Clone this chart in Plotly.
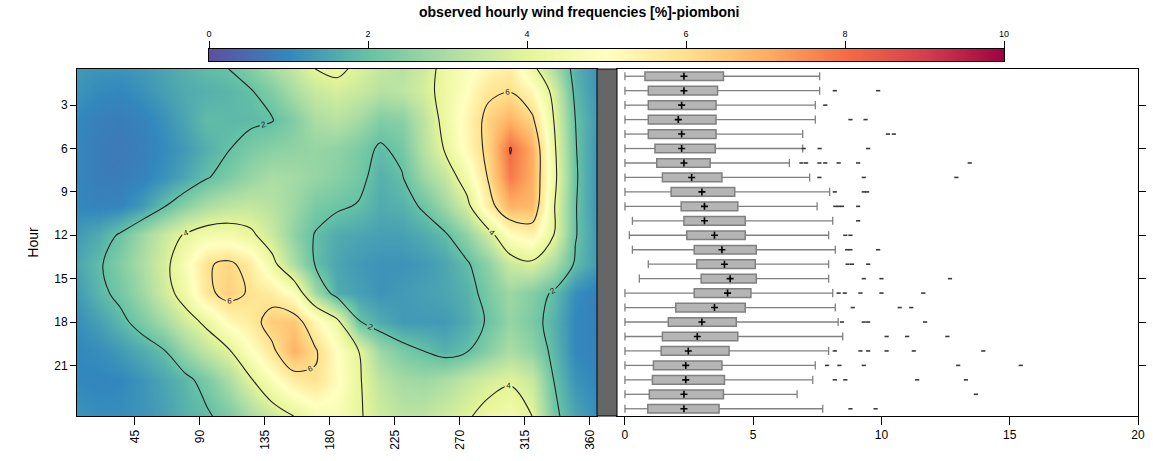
import plotly.graph_objects as go

# Wind direction (degrees) and hour grid of the frequency surface
directions = [5, 20, 35, 50, 65, 80, 95, 110, 125, 140, 155, 170, 185,
              200, 215, 230, 245, 260, 275, 290, 305, 320, 335, 350, 365]
surface_hours = [0.5, 2, 4, 6, 8, 10, 12, 14, 16, 18, 20, 22, 24.5]

# Observed hourly wind frequency [%], one row per entry of surface_hours
freq_h00 = [1.3, 1.2, 1.2, 1.3, 1.5, 1.7, 1.9, 2.0, 2.4, 2.9, 3.4, 4.0, 4.2, 3.8, 3.4, 3.2, 3.6, 4.3, 4.8, 5.3, 5.6, 4.3, 3.0, 1.7, 1.2]
freq_h02 = [1.2, 1.05, 1.0, 1.15, 1.4, 1.6, 1.7, 1.8, 1.95, 2.4, 3.0, 3.5, 3.7, 3.5, 3.2, 3.3, 3.7, 4.3, 5.0, 5.8, 5.95, 5.2, 3.7, 1.8, 1.2]
freq_h04 = [1.0, 0.85, 0.8, 0.9, 1.15, 1.5, 1.9, 1.85, 1.85, 1.95, 2.4, 3.0, 3.2, 2.9, 2.4, 2.5, 3.3, 4.3, 5.3, 6.3, 6.9, 6.2, 4.0, 2.0, 1.3]
freq_h06 = [0.95, 0.8, 0.75, 0.85, 1.05, 1.3, 1.7, 1.97, 2.3, 2.5, 2.6, 2.7, 2.6, 2.3, 1.9, 2.2, 3.2, 4.1, 5.2, 6.3, 8.05, 7.0, 4.2, 2.05, 1.2]
freq_h08 = [0.95, 0.8, 0.8, 0.9, 1.15, 1.5, 1.95, 2.3, 2.7, 3.0, 2.9, 2.7, 2.5, 2.2, 1.7, 1.95, 2.8, 3.4, 4.5, 6.1, 7.8, 7.0, 4.3, 2.1, 1.2]
freq_h10 = [1.0, 0.9, 0.95, 1.3, 1.95, 2.5, 3.0, 3.3, 3.4, 3.2, 2.8, 2.3, 2.1, 1.95, 1.6, 1.7, 2.1, 2.8, 3.7, 5.6, 6.9, 6.8, 4.1, 2.05, 1.2]
freq_h12 = [1.3, 1.6, 2.1, 2.8, 3.5, 4.1, 4.5, 4.5, 4.2, 3.5, 2.6, 1.95, 1.6, 1.5, 1.4, 1.4, 1.6, 1.9, 2.6, 3.6, 5.0, 5.4, 4.0, 2.05, 1.3]
freq_h14 = [1.5, 1.9, 2.4, 3.0, 3.7, 4.7, 5.9, 6.2, 5.6, 4.3, 3.0, 1.95, 1.5, 1.3, 1.2, 1.2, 1.3, 1.5, 1.9, 2.6, 3.5, 3.8, 3.0, 1.9, 1.3]
freq_h16 = [1.3, 1.8, 2.2, 2.8, 3.6, 4.4, 5.8, 6.3, 5.9, 5.6, 4.8, 2.9, 1.6, 1.4, 1.2, 1.3, 1.4, 1.5, 1.7, 2.3, 2.8, 2.4, 1.9, 1.1, 0.85]
freq_h18 = [1.1, 1.4, 1.8, 2.3, 2.9, 3.6, 4.2, 5.2, 5.6, 6.4, 6.5, 5.3, 4.3, 2.05, 1.6, 1.3, 1.3, 1.3, 1.6, 2.1, 2.7, 2.3, 1.7, 1.0, 0.85]
freq_h20 = [1.0, 1.1, 1.3, 1.6, 1.95, 2.7, 3.4, 3.9, 4.9, 5.8, 6.9, 6.1, 5.0, 4.0, 2.8, 2.3, 2.0, 1.7, 1.95, 2.5, 3.0, 2.6, 1.8, 1.0, 0.9]
freq_h22 = [1.0, 0.95, 1.0, 1.2, 1.5, 1.8, 2.3, 3.0, 3.9, 4.8, 5.6, 5.9, 5.1, 4.1, 3.3, 2.9, 2.8, 3.0, 3.4, 3.7, 3.9, 3.5, 2.0, 1.2, 0.95]
freq_h24 = [1.2, 1.1, 1.1, 1.2, 1.4, 1.7, 1.9, 2.3, 2.9, 3.5, 4.0, 4.6, 4.7, 4.1, 3.6, 3.3, 3.3, 3.6, 3.9, 4.3, 4.5, 4.0, 2.2, 1.5, 1.1]

frequency = [freq_h00, freq_h02, freq_h04, freq_h06, freq_h08, freq_h10, freq_h12,
             freq_h14, freq_h16, freq_h18, freq_h20, freq_h22, freq_h24]

# Hourly wind speed distribution (box statistics)
hours = list(range(1, 25))
speed_low = [0, 0, 0, 0, 0, 0, 0, 0, 0, 0, 0.29, 0.17, 0.29, 0.91, 0.56, 0, 0, 0, 0, 0, 0, 0, 0, 0]
speed_q1 = [0.78, 0.91, 0.91, 0.91, 0.91, 1.17, 1.24, 1.46, 1.80, 2.19, 2.30, 2.41,
            2.70, 2.80, 2.97, 2.70, 1.98, 1.69, 1.46, 1.41, 1.11, 1.07, 0.95, 0.89]
speed_q3 = [3.84, 3.61, 3.55, 3.55, 3.55, 3.52, 3.32, 3.78, 4.28, 4.40, 4.69, 4.69,
            5.12, 5.08, 5.12, 4.91, 4.69, 4.34, 4.40, 4.06, 3.78, 3.88, 3.84, 3.67]
speed_high = [7.59, 7.59, 7.42, 7.42, 6.93, 6.93, 6.41, 7.20, 7.98, 7.49, 8.10, 7.94,
              8.20, 7.94, 7.94, 8.10, 8.20, 8.31, 8.49, 7.94, 7.42, 7.32, 6.71, 7.71]
speed_mean = [2.30, 2.30, 2.21, 2.08, 2.21, 2.21, 2.30, 2.60, 3.00, 3.10, 3.10, 3.49,
              3.78, 3.88, 4.10, 4.00, 3.49, 3.00, 2.82, 2.47, 2.37, 2.37, 2.30, 2.30]
speed_outliers = [
    [], [8.18, 9.87], [7.81], [8.79, 9.38], [10.25, 10.48], [6.97, 7.59, 9.48],
    [6.88, 7.06, 7.58, 7.81, 8.33, 9.09, 13.44], [7.58, 9.31, 12.92], [8.18, 9.31, 9.44],
    [8.20, 8.33, 8.46, 9.09], [9.09], [8.59, 8.79], [8.66, 8.79, 9.87], [8.68, 8.85, 9.48],
    [9.31, 10.00, 12.67], [8.33, 8.57, 9.18, 10.00, 11.63], [8.88, 10.71, 11.16],
    [8.46, 9.31, 9.48, 11.70], [10.20, 11.00, 12.57], [8.18, 9.18, 9.48, 10.20, 11.26, 13.97],
    [7.88, 8.36, 9.31, 12.99, 15.43], [8.18, 8.59, 11.39, 13.29], [13.68], [8.79, 9.77],
]

direction_ticks = [45, 90, 135, 180, 225, 270, 315, 360]
hour_ticks = [3, 6, 9, 12, 15, 18, 21]
speed_ticks = [0, 5, 10, 15, 20]
scale_ticks = [0, 2, 4, 6, 8, 10]
scale_range = [0, 10]

FONT = "Liberation Sans"
W, H = 1153, 461


def px_x(p):
    return p / W


def px_y(p):
    return 1 - p / H


fig = go.Figure()

# Frequency surface with contour lines
fig.add_trace(go.Contour(
    x=directions, y=surface_hours, z=frequency,
    colorscale="Spectral_r", zmin=0, zmax=10, zauto=False,
    contours=dict(start=2, end=8, size=2, coloring="heatmap", showlabels=True,
                  labelfont=dict(size=8, color="#222", family=FONT)),
    line=dict(color="#222222", width=1.1),
    showscale=False, hoverinfo="skip",
    xaxis="x", yaxis="y",
))

# Colour key drawn as a gradient strip on its own axis
fig.add_trace(go.Heatmap(
    x=scale_range, y=[0], z=[scale_range],
    colorscale="Spectral_r", zmin=0, zmax=10, zsmooth="best",
    showscale=False, hoverinfo="skip", xaxis="x3", yaxis="y3",
))

# Boxes (interquartile range)
box_grey = "#808080"
fig.add_trace(go.Bar(
    orientation="h", y=hours, base=speed_q1,
    x=[b - a for a, b in zip(speed_q1, speed_q3)],
    width=0.6, marker=dict(color="#b5b5b5", line=dict(color=box_grey, width=1.5)),
    xaxis="x2", yaxis="y2", hoverinfo="skip",
))

# Whiskers with end caps
wx, wy = [], []
cap = 0.28
for h, lo, a, b, hi in zip(hours, speed_low, speed_q1, speed_q3, speed_high):
    wx += [lo, a, None, b, hi, None, lo, lo, None, hi, hi, None]
    wy += [h, h, None, h, h, None, h - cap, h + cap, None, h - cap, h + cap, None]
fig.add_trace(go.Scatter(
    x=wx, y=wy, mode="lines", line=dict(color=box_grey, width=1.3),
    xaxis="x2", yaxis="y2", hoverinfo="skip",
))

# Outliers
ox, oy = [], []
for h, pts in zip(hours, speed_outliers):
    ox += pts
    oy += [h] * len(pts)
fig.add_trace(go.Scatter(
    x=ox, y=oy, mode="markers",
    marker=dict(symbol="line-ew", size=3, line=dict(color="#3a3a3a", width=1.6)),
    xaxis="x2", yaxis="y2", hoverinfo="skip",
))

# Mean markers
fig.add_trace(go.Scatter(
    x=speed_mean, y=hours, mode="markers",
    marker=dict(symbol="cross-thin", size=5, line=dict(color="black", width=1.6)),
    xaxis="x2", yaxis="y2", hoverinfo="skip",
))

axis_common = dict(showline=True, mirror=True, linecolor="black", linewidth=1,
                   showgrid=False, zeroline=False, ticks="outside", tickcolor="black",
                   automargin=False,
                   tickfont=dict(size=12, color="black", family=FONT))

panel_y = [px_y(416), px_y(69)]

fig.update_layout(
    width=W, height=H,
    margin=dict(l=0, r=0, t=0, b=0, autoexpand=False),
    paper_bgcolor="white", plot_bgcolor="white",
    showlegend=False,
    font=dict(family=FONT, color="black"),
    xaxis=dict(domain=[px_x(77), px_x(597)], range=[5, 365], tickvals=direction_ticks,
               tickangle=-90, ticklen=8, anchor="y", **axis_common),
    yaxis=dict(domain=panel_y, range=[24.5, 0.5], tickvals=hour_ticks, ticklen=6,
               anchor="x", title=dict(text="Hour", font=dict(size=14), standoff=12),
               **axis_common),
    xaxis2=dict(domain=[px_x(617), px_x(1138)], range=[-0.31, 20], tickvals=speed_ticks,
                ticklen=8, anchor="y2", **axis_common),
    yaxis2=dict(domain=panel_y, range=[24.5, 0.5], tickvals=hour_ticks, ticklen=7,
                side="right", showticklabels=False, anchor="x2", **axis_common),
    xaxis3=dict(domain=[px_x(209), px_x(1004)], range=scale_range, tickvals=scale_ticks,
                side="top", ticks="outside", ticklen=7, tickcolor="black",
                tickfont=dict(size=9, color="black", family=FONT), automargin=False,
                showline=True, mirror=True, linecolor="black", linewidth=1,
                showgrid=False, zeroline=False, anchor="y3"),
    yaxis3=dict(domain=[px_y(61), px_y(49)], range=[-0.5, 0.5], showticklabels=False,
                ticks="", showline=True, mirror=True, linecolor="black", linewidth=1,
                showgrid=False, zeroline=False, anchor="x3", automargin=False),
    shapes=[dict(type="rect", xref="paper", yref="paper",
                 x0=px_x(597), x1=px_x(617), y0=panel_y[0], y1=panel_y[1],
                 fillcolor="#666666", line=dict(color="black", width=1))],
    annotations=[dict(text="<b>observed hourly wind frequencies [%]-piomboni</b>",
                      xref="paper", yref="paper", x=px_x(579), y=px_y(12),
                      xanchor="center", yanchor="middle", showarrow=False,
                      font=dict(size=14, color="black", family=FONT))],
)

fig.write_html("out.html")
